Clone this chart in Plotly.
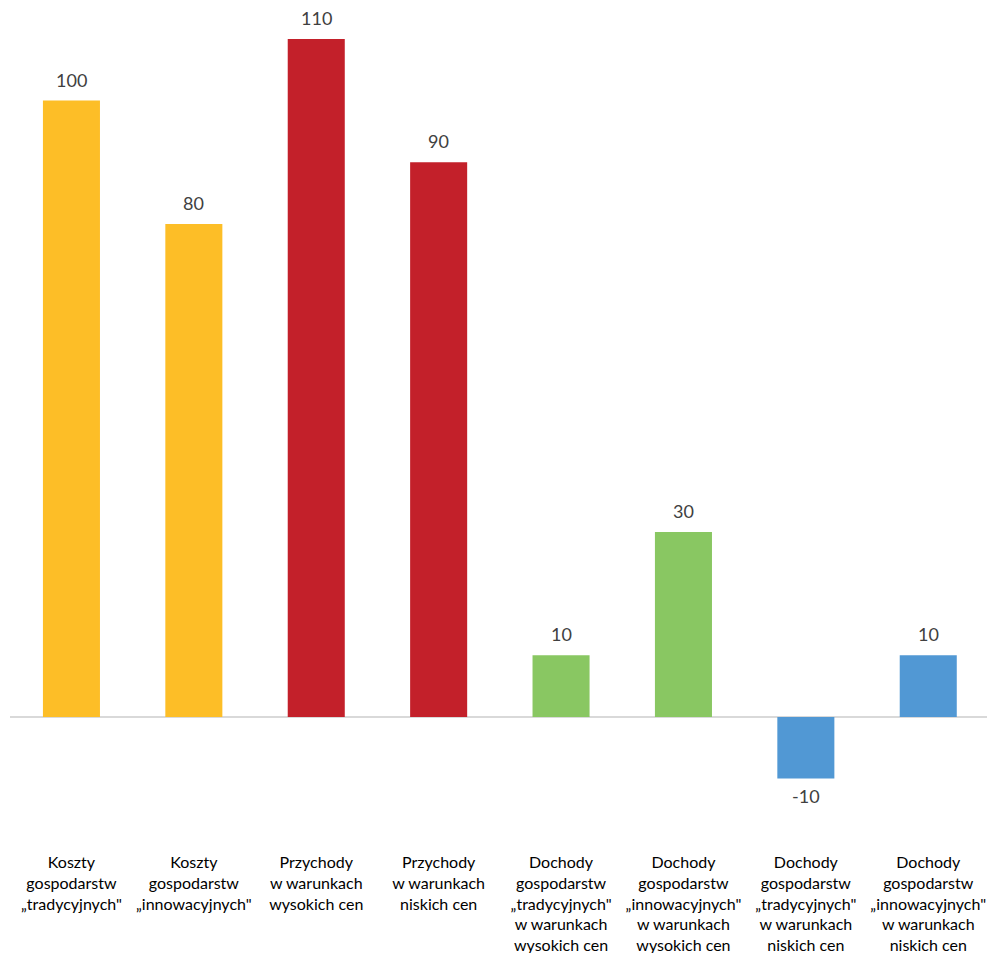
import plotly.graph_objects as go

categories = [
    "Koszty<br>gospodarstw<br>„tradycyjnych\"",
    "Koszty<br>gospodarstw<br>„innowacyjnych\"",
    "Przychody<br>w warunkach<br>wysokich cen",
    "Przychody<br>w warunkach<br>niskich cen",
    "Dochody<br>gospodarstw<br>„tradycyjnych\"<br>w warunkach<br>wysokich cen",
    "Dochody<br>gospodarstw<br>„innowacyjnych\"<br>w warunkach<br>wysokich cen",
    "Dochody<br>gospodarstw<br>„tradycyjnych\"<br>w warunkach<br>niskich cen",
    "Dochody<br>gospodarstw<br>„innowacyjnych\"<br>w warunkach<br>niskich cen",
]
values = [100, 80, 110, 90, 10, 30, -10, 10]
colors = ["#FDBE27", "#FDBE27", "#C3202A", "#C3202A",
          "#89C762", "#89C762", "#5198D4", "#5198D4"]

fig = go.Figure()
fig.add_trace(go.Bar(
    x=list(range(len(categories))), y=values,
    marker=dict(color=colors, line=dict(width=0)),
    width=0.466, hoverinfo="skip",
))

for i, v in enumerate(values):
    fig.add_annotation(
        x=i, y=v, text=str(v), showarrow=False,
        yanchor="bottom" if v >= 0 else "top",
        yshift=8 if v >= 0 else -4,
        font=dict(family="Lato, Open Sans, sans-serif", size=18, color="#404040"),
    )

fig.update_layout(
    width=987, height=953,
    margin=dict(l=10, r=0, t=10, b=108),
    paper_bgcolor="white", plot_bgcolor="white",
    showlegend=False,
    xaxis=dict(
        tickmode="array", tickvals=list(range(len(categories))),
        ticktext=categories, range=[-0.502, 7.48],
        showgrid=False, showline=False, zeroline=False, ticks="",
        tickangle=0, ticklabelstandoff=6,
        tickfont=dict(family="Lato, Open Sans, sans-serif", size=16, color="#000000"),
    ),
    yaxis=dict(
        range=[-20.77, 114.7], showgrid=False, showticklabels=False,
        zeroline=True, zerolinecolor="#D9D9D9", zerolinewidth=2,
        showline=False, ticks="",
    ),
)

fig.write_html("out.html")
